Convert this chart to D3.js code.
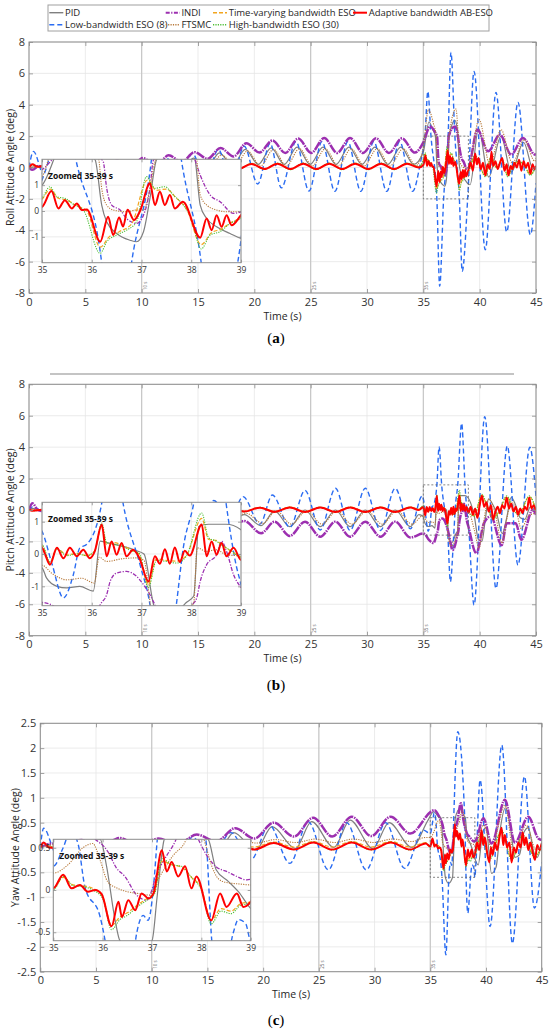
<!DOCTYPE html>
<html>
<head>
<meta charset="utf-8">
<script src="https://cdn.jsdelivr.net/npm/d3@7"></script>
<style>
  body { margin: 0; background: #fff; }
  svg { display: block; }
</style>
</head>
<body>
<svg id="chart" width="550" height="1032"></svg>
<script>
// ---------- data (time s, angle deg) ----------
var seriesLabels = ["PID", "Low-bandwidth ESO (8)", "INDI", "FTSMC",
                    "Time-varying bandwidth ESO", "High-bandwidth ESO (30)", "Adaptive bandwidth AB-ESO"];

var xTicks = [0, 5, 10, 15, 20, 25, 30, 35, 40, 45];
var insetXTicks = [35, 36, 37, 38, 39];
var markTimes = [10, 25, 35];
var markLabels = ["10 s", "25 s", "35 s"];

var rollTicks = [-8, -6, -4, -2, 0, 2, 4, 6, 8];
var pitchTicks = [-8, -6, -4, -2, 0, 2, 4, 6, 8];
var yawTicks = [-2.5, -2, -1.5, -1, -0.5, 0, 0.5, 1, 1.5, 2, 2.5];
var rollInsetTicks = [-1, 0, 1];
var pitchInsetTicks = [-1, 0, 1];
var yawInsetTicks = [-0.5, 0, 0.5];

// ---- roll ----
var rollPID = [[0,0],[0.8,0.05],[1.95,-0.3],[3.1,0.08],[4.25,-0.35],[5.4,0.1],[6.55,-0.4],[7.7,0.15],[8.85,-0.4],[10,0.2],[11.15,-0.35],[12.3,0.3],[13.45,-0.3],[14.6,0.6],[15.75,-0.1],[16.9,0.93],[18.05,0.1],[19.2,1.15],[20.35,0.2],[21.5,1.25],[22.65,0.2],[23.8,1.3],[24.95,0.2],[26.1,1.3],[27.25,0.2],[28.4,1.3],[29.55,0.2],[30.7,1.3],[31.85,0.2],[33,1.3],[34.15,0.2],
  [35,1.0],[35.5,2.9],[35.85,2.4],[36.07,1.97],[36.2,0.23],[36.3,-0.42],[36.5,-0.87],[36.77,-1.13],[36.9,-1.19],[37.04,-0.8],[37.17,0.49],[37.3,1.97],[37.8,3.0],[38,2.5],[38.08,1.97],[38.18,0.23],[38.31,-0.29],[38.51,-0.61],[38.78,-0.87],[39,-1.06],[39.15,-1.1],[39.9,2.5],[40.8,-0.6],[41.9,2.0],[42.8,-0.3],[43.9,1.6],[44.8,-0.2],[45,0]];
var rollLowESO = [[0,0],[0.4,1.03],[1.3,-0.45],[3,0.2],[4.15,-0.3],[5.3,0.25],[6.45,-0.35],[7.6,0.3],[8.75,-0.4],[9.9,0.4],[11.05,-0.5],[12.2,0.6],[13.35,-0.7],[14.5,0.9],[15.65,-0.85],[16.8,1.15],[17.95,-0.95],[19.1,1.35],[20.3,-1.05],[21.4,1.55],[22.4,-1.3],[23.7,1.65],[24.85,-1.5],[26,1.65],[27.15,-1.52],[28.3,1.65],[29.45,-1.52],[30.6,1.65],[31.75,-1.52],[32.9,1.65],[34.05,-1.52],
  [34.8,0.5],[35,1.2],[35.15,2.1],[35.4,4.85],[35.68,2.0],[36.2,-2.0],[36.45,-7.58],[36.8,-2.0],[37.2,2.0],[37.45,7.34],[37.8,2.0],[38.2,-2.0],[38.45,-6.62],[38.95,-1.8],[39.5,6.13],[40.5,-5.24],[41.45,4.79],[42.4,-4.11],[43.4,4.15],[44.5,-4.28],[45,-1.0]];
var rollINDI = [[0,0],[0.3,-0.15],[0.9,0.1],[2.05,-0.2],[3.2,0.2],[4.35,-0.2],[5.5,0.3],[6.65,-0.15],[7.8,0.45],[8.95,-0.05],[10.1,0.6],[11.25,0.1],[12.4,0.78],[13.55,0.35],[14.7,0.98],[15.85,0.55],[17,1.25],[18.15,0.7],[19.3,1.55],[20.45,0.95],[21.6,1.72],[22.75,0.93],[23.9,1.85],[25.05,0.93],[26.2,1.88],[27.35,0.93],[28.5,1.88],[29.65,0.93],[30.8,1.86],[31.95,0.93],[33.1,1.86],[34.25,0.95],
  [35,1.6],[35.6,2.62],[36,2.3],[36.23,1.91],[36.3,0.88],[36.4,0.23],[36.57,0.04],[36.7,-0.29],[36.9,-0.48],[37.04,-0.16],[37.17,0.88],[37.24,1.97],[37.8,2.62],[38.05,2.1],[38.18,1.39],[38.38,0.62],[38.58,0.36],[38.85,-0.09],[39,-0.03],[39.8,2.41],[40.75,1.03],[41.8,2.09],[42.8,0.82],[43.85,1.88],[44.9,0.82],[45,0.9]];
var rollFTSMC = [[0,0],[1,0.03],[2.15,-0.2],[3.3,0.05],[4.45,-0.25],[5.6,0.08],[6.75,-0.3],[7.9,0.1],[9.05,-0.3],[10.2,0.15],[11.35,-0.3],[12.5,0.2],[13.65,-0.25],[14.8,0.5],[15.95,-0.05],[17.1,0.8],[18.25,0.05],[19.4,1.05],[20.55,0.1],[21.7,1.15],[22.85,0.1],[24,1.2],[25.15,0.1],[26.3,1.2],[27.45,0.1],[28.6,1.2],[29.75,0.1],[30.9,1.2],[32.05,0.1],[33.2,1.2],[34.35,0.12],
  [35,1.3],[35.45,3.68],[35.9,2.8],[36.14,2.0],[36.2,0.88],[36.3,0.23],[36.43,0.04],[36.7,-0.03],[36.9,0.04],[37.04,0.04],[37.17,0.88],[37.27,1.91],[37.9,3.73],[38.05,2.6],[38.11,2.0],[38.18,0.62],[38.31,0.23],[38.51,0.04],[38.72,-0.03],[39,-0.03],[39.95,3.05],[40.9,0.2],[41.9,2.41],[42.9,0.3],[43.95,1.77],[44.9,0.4],[45,0.6]];
var rollTVESO = [[0,0],[0.3,0.15],[0.8,0.05],[1.35,0.1],[2.5,-0.05],[3.65,0.1],[4.8,-0.05],[5.95,0.1],[7.1,-0.05],[8.25,0.12],[9.4,-0.05],[10.55,0.15],[11.7,-0.07],[12.85,0.18],[14,-0.08],[15.15,0.22],[16.3,-0.1],[17.45,0.24],[18.6,-0.11],[19.75,0.26],[20.9,-0.12],[22.05,0.27],[23.2,-0.12],[24.35,0.27],[25.5,-0.12],[26.65,0.27],[27.8,-0.12],[28.95,0.27],[30.1,-0.12],[31.25,0.27],[32.4,-0.12],[33.55,0.27],[34.6,0.05],
  [35,0.45],[35.17,0.85],[35.32,0.5],[35.5,0.42],[35.7,0.2],[35.9,0],[36.17,-1.4],[36.35,-1.0],[36.55,-0.8],[36.8,-0.5],[37.12,1.2],[37.3,0.8],[37.5,0.85],[37.7,0.5],[37.9,0.1],[38.2,-1.3],[38.4,-0.85],[38.6,-0.7],[38.8,-0.45],[39,-0.25],[39.6,0.75],[40,0.15],[40.5,-0.55],[41,0.65],[41.5,0],[42,0.45],[42.5,-0.55],[43,0.2],[43.5,0.35],[44,0.1],[44.5,-0.45],[45,0.1]];
var rollHighESO = [[0,0],[0.3,0.16],[0.8,0.05],[1.35,0.11],[2.5,-0.06],[3.65,0.11],[4.8,-0.06],[5.95,0.11],[7.1,-0.06],[8.25,0.13],[9.4,-0.06],[10.55,0.16],[11.7,-0.08],[12.85,0.19],[14,-0.09],[15.15,0.23],[16.3,-0.11],[17.45,0.25],[18.6,-0.12],[19.75,0.27],[20.9,-0.13],[22.05,0.28],[23.2,-0.14],[24.35,0.28],[25.5,-0.14],[26.65,0.28],[27.8,-0.14],[28.95,0.28],[30.1,-0.14],[31.25,0.28],[32.4,-0.14],[33.55,0.28],[34.6,0.05],
  [35,0.49],[35.16,0.94],[35.3,0.55],[35.46,0.49],[35.63,0.26],[35.83,0.04],[36.17,-1.64],[36.3,-1.19],[36.5,-0.93],[36.7,-0.74],[36.9,-0.42],[37.1,1.33],[37.27,0.88],[37.47,0.94],[37.64,0.62],[37.84,0.23],[38,-0.29],[38.2,-1.47],[38.38,-0.93],[38.58,-0.8],[38.78,-0.48],[39,-0.29],[39.6,0.8],[40,0.2],[40.5,-0.6],[41,0.7],[41.5,0],[42,0.5],[42.5,-0.6],[43,0.2],[43.5,0.4],[44,0.1],[44.5,-0.5],[45,0.1]];
var rollABESO = [[0,0],[0.3,0.2],[0.8,0.05],[1.35,0.12],[2.5,-0.05],[3.65,0.1],[4.8,-0.05],[5.95,0.1],[7.1,-0.05],[8.25,0.12],[9.4,-0.05],[10.55,0.15],[11.7,-0.07],[12.85,0.18],[14,-0.08],[15.15,0.2],[16.3,-0.09],[17.45,0.22],[18.6,-0.1],[19.75,0.23],[20.9,-0.1],[22.05,0.24],[23.2,-0.1],[24.35,0.24],[25.5,-0.1],[26.65,0.24],[27.8,-0.1],[28.95,0.24],[30.1,-0.1],[31.25,0.24],[32.4,-0.1],[33.55,0.24],[34.6,0],
  [35,0.16],[35.19,0.77],[35.33,0.1],[35.46,0.42],[35.6,0.1],[35.7,0.29],[35.8,0.04],[35.9,0.06],[36.17,-1.19],[36.33,-0.22],[36.43,-0.93],[36.55,-0.25],[36.63,-0.6],[36.72,0.05],[36.85,-0.35],[36.97,0],[37.17,1.07],[37.27,0.23],[37.37,0.74],[37.47,0.23],[37.57,0.62],[37.67,0.1],[37.83,0.36],[38.18,-1.03],[38.31,-0.29],[38.41,-0.74],[38.51,-0.16],[38.61,-0.61],[38.71,-0.16],[38.81,-0.55],[39,-0.16],
  [39.2,0.3],[39.4,-0.2],[39.6,0.9],[39.75,0.2],[39.9,0.6],[40.1,-0.1],[40.3,0.3],[40.5,-0.5],[40.7,0.2],[40.9,-0.1],[41.05,1.0],[41.2,0.1],[41.4,0.4],[41.6,-0.1],[41.8,0.3],[42,0.6],[42.2,-0.2],[42.4,0.2],[42.55,-0.5],[42.75,0.1],[42.9,-0.1],[43.1,0.3],[43.3,0],[43.5,0.5],[43.7,-0.2],[43.9,0.4],[44.1,0],[44.3,0.3],[44.5,-0.4],[44.7,0.2],[44.85,-0.1],[45,0.1]];

// ---- pitch ----
var pitchPID = [[0,0],[0.3,0.1],[1.6,-0.15],[2.9,0],[4.3,-0.2],[5.6,0],[7,-0.25],[8.3,0],[9.7,-0.3],[11,0],[12.4,-0.4],[13.7,0],[15.1,-0.6],[16.4,0],[17.8,-0.8],[19.1,-0.3],[20.6,-1.0],[21.8,-0.05],[23.15,-1.06],[24.5,0],[25.85,-1.06],[27.2,0],[28.5,-1.06],[29.85,0],[31.2,-1.06],[32.5,0],[33.85,-1.06],
  [34.6,-0.3],[35,-0.43],[35.09,-0.74],[35.3,-1.0],[35.5,-1.05],[35.76,-1.0],[36.03,-1.15],[36.17,0.4],[36.3,0.35],[36.6,0.25],[36.9,0.1],[37.05,0],[37.25,-1.6],[37.5,-2.1],[37.9,-1.5],[38.05,-1.3],[38.15,0.85],[38.35,0.92],[38.7,0.92],[39,0.75],[39.5,-0.3],[39.9,-1.9],[40.2,-2.0],[40.5,-0.6],[40.8,0.7],[41.2,0.3],[41.5,-0.2],[42,-1.5],[42.4,-0.5],[42.8,0.8],[43.2,0.3],[43.6,-0.5],[44,-0.6],[44.5,0.2],[45,0]];
var pitchLowESO = [[0,0],[0.3,0.2],[1.6,-0.2],[2.9,0.15],[4.3,-0.2],[5.6,0.2],[7,-0.25],[8.3,0.25],[9.7,-0.3],[11,0.3],[12.4,-0.4],[13.7,0.4],[15.1,-0.55],[16.4,0.6],[17.8,-0.7],[19,0.85],[20.5,-0.9],[21.6,0.95],[23.15,-1.1],[24.5,1.25],[25.85,-1.27],[27.2,1.38],[28.5,-1.3],[29.85,1.38],[31.2,-1.3],[32.5,1.38],[33.85,-1.2],
  [34.9,0.9],[35,0.7],[35.2,-0.3],[35.43,-1.36],[35.63,-0.64],[35.76,0.19],[35.9,0.3],[36.2,1.57],[36.4,4.03],[36.63,1.57],[36.97,-0.33],[37.17,-1.57],[37.4,-4.56],[37.7,-1.57],[37.84,0.19],[38.05,1.57],[38.4,5.52],[38.7,1.57],[38.9,-0.33],[39,-0.95],[39.5,-6.05],[40.45,5.94],[41.45,-4.99],[42.45,4.07],[43.4,-3.5],[44.45,3.99],[45,0.85]];
var pitchINDI = [[0,0],[0.3,0.43],[0.8,0],[1.6,-0.1],[2.9,0.05],[4.3,-0.2],[5.6,0],[7,-0.35],[8.3,-0.05],[9.7,-0.5],[11,-0.15],[12.4,-0.7],[13.7,-0.25],[15.1,-0.95],[16.4,-0.35],[17.8,-1.2],[19.1,-0.7],[20.6,-1.48],[21.8,-0.74],[23.15,-1.65],[24.5,-0.74],[25.85,-1.7],[27.2,-0.74],[28.5,-1.7],[29.85,-0.74],[31.2,-1.7],[32.5,-0.74],[33.85,-1.75],
  [35,-1.5],[35.15,-1.55],[35.5,-1.9],[35.9,-2.1],[36.2,-1.5],[36.3,-1.26],[36.37,-0.85],[36.5,-0.59],[36.7,-0.54],[36.9,-0.69],[37.04,-0.95],[37.17,-1.26],[37.27,-1.57],[37.6,-2.55],[37.9,-2.0],[38.01,-1.6],[38.11,-1.36],[38.18,-0.85],[38.31,-0.33],[38.51,-0.02],[38.61,0.39],[38.71,0.08],[38.85,-0.64],[39,-1.05],[39.7,-2.75],[40.4,-0.8],[41,-0.4],[41.95,-2.25],[42.4,-0.85],[43.2,-0.85],[43.7,-1.9],[44.7,0],[45,-0.3]];
var pitchFTSMC = [[0,0],[0.3,0.05],[1.75,-0.1],[3.05,-0.02],[4.45,-0.15],[5.75,-0.02],[7.15,-0.2],[8.45,-0.03],[9.85,-0.25],[11.15,-0.03],[12.55,-0.35],[13.85,-0.04],[15.25,-0.5],[16.55,-0.05],[17.95,-0.7],[19.25,-0.2],[20.75,-0.85],[21.95,-0.05],[23.3,-0.9],[24.65,-0.05],[26,-0.9],[27.35,-0.05],[28.65,-0.9],[30,-0.05],[31.35,-0.9],[32.65,-0.05],[34,-0.9],
  [35,-0.35],[35.2,-0.6],[35.5,-0.8],[35.8,-0.75],[36.05,-0.9],[36.15,-0.1],[36.3,-0.23],[36.6,-0.15],[36.9,-0.12],[37.05,-0.2],[37.2,-1.7],[37.5,-2.3],[37.9,-1.8],[38.05,-1.5],[38.12,0.19],[38.3,0.08],[38.5,0.13],[38.7,-0.02],[39,-0.07],[39.5,-1.2],[39.95,-2.4],[40.3,-1.0],[40.8,0.7],[41.3,0],[42,-2.1],[42.4,-0.6],[42.8,0.5],[43.2,0.1],[43.7,-1.2],[44.3,-0.4],[45,-0.2]];
var pitchTVESO = [[0,0],[0.3,-0.03],[1.6,0.06],[2.9,-0.03],[4.3,0.07],[5.6,-0.04],[7,0.08],[8.3,-0.04],[9.7,0.09],[11,-0.05],[12.4,0.11],[13.7,-0.06],[15.1,0.13],[16.4,-0.07],[17.8,0.15],[19.1,-0.08],[20.5,0.17],[21.8,-0.1],[23.15,0.19],[24.5,-0.11],[25.85,0.19],[27.2,-0.11],[28.5,0.19],[29.85,-0.11],[31.2,0.19],[32.5,-0.11],[33.85,0.19],[34.6,0.05],
  [35,0.25],[35.16,-0.28],[35.3,0.17],[35.5,-0.03],[35.7,0.02],[35.9,-0.05],[36.06,0.1],[36.2,0.85],[36.3,0.3],[36.45,0.35],[36.6,0.28],[36.8,0.12],[36.95,0],[37.14,-0.95],[37.3,-0.15],[37.5,-0.2],[37.7,-0.22],[37.9,-0.05],[38.21,1.1],[38.35,0.45],[38.5,0.42],[38.6,0.3],[38.8,0.08],[39,-0.1],[39.5,-0.35],[40.2,0.95],[40.6,0.35],[41.2,-0.5],[41.8,0.05],[42.4,0.85],[43,0],[43.5,-0.25],[44.4,0.85],[45,0]];
var pitchHighESO = [[0,0],[0.3,-0.06],[1.6,0.05],[2.9,-0.05],[4.3,0.06],[5.6,-0.06],[7,0.07],[8.3,-0.06],[9.7,0.09],[11,-0.07],[12.4,0.11],[13.7,-0.08],[15.1,0.13],[16.4,-0.1],[17.8,0.15],[19.1,-0.12],[20.5,0.17],[21.8,-0.14],[23.15,0.18],[24.5,-0.15],[25.85,0.18],[27.2,-0.15],[28.5,0.18],[29.85,-0.15],[31.2,0.18],[32.5,-0.15],[33.85,0.18],[34.6,0.05],
  [35,0.29],[35.16,-0.25],[35.3,0.15],[35.5,-0.05],[35.7,0],[35.9,-0.05],[36.06,0.1],[36.2,0.96],[36.3,0.35],[36.45,0.3],[36.6,0.24],[36.8,0.1],[36.95,0.03],[37.14,-1.05],[37.3,-0.2],[37.5,-0.23],[37.7,-0.28],[37.9,-0.07],[38.21,1.27],[38.35,0.5],[38.5,0.4],[38.6,0.29],[38.8,0.1],[39,-0.12],[39.5,-0.4],[40.2,1.0],[40.6,0.4],[41.2,-0.6],[41.8,0],[42.4,0.9],[43,0],[43.5,-0.3],[44.4,0.9],[45,0]];
var pitchABESO = [[0,0],[0.3,-0.05],[1.6,0.05],[2.9,-0.04],[4.3,0.06],[5.6,-0.05],[7,0.07],[8.3,-0.05],[9.7,0.08],[11,-0.06],[12.4,0.1],[13.7,-0.07],[15.1,0.12],[16.4,-0.08],[17.8,0.13],[19.1,-0.1],[20.5,0.15],[21.8,-0.12],[23.15,0.16],[24.5,-0.13],[25.85,0.16],[27.2,-0.13],[28.5,0.16],[29.85,-0.13],[31.2,0.16],[32.5,-0.13],[33.85,0.16],[34.6,0],
  [35,0.19],[35.06,0],[35.16,-0.33],[35.3,0.19],[35.43,-0.13],[35.56,0.19],[35.7,-0.07],[35.83,0.13],[35.96,-0.13],[36.06,0.08],[36.2,0.91],[36.3,-0.07],[36.4,0.39],[36.5,-0.02],[36.6,0.34],[36.7,-0.07],[36.83,0.13],[36.95,-0.1],[37.14,-0.85],[37.27,-0.07],[37.37,-0.3],[37.47,0.15],[37.57,-0.3],[37.67,0.2],[37.77,-0.25],[37.87,0.1],[37.97,-0.05],[38.21,0.91],[38.31,-0.07],[38.41,0.39],[38.51,-0.02],[38.61,0.34],[38.71,-0.07],[38.85,0.19],[39,-0.18],
  [39.2,0.2],[39.4,-0.3],[39.6,0.1],[39.8,-0.5],[40,0.3],[40.2,0.9],[40.4,0.2],[40.6,0.5],[40.8,-0.1],[41,0.3],[41.2,-0.6],[41.4,-0.1],[41.6,0.2],[41.8,-0.2],[42,0.3],[42.2,0.1],[42.4,0.8],[42.6,0.1],[42.8,0.4],[43,-0.1],[43.2,0.2],[43.4,-0.3],[43.6,0.1],[43.8,-0.2],[44,0.2],[44.2,0],[44.4,0.8],[44.6,0.1],[44.8,0.3],[45,-0.1]];

// ---- yaw ----
var yawPID = [[0,0],[0.5,0.05],[1.9,-0.05],[3.55,0.05],[5.5,-0.05],[7,0.08],[9,-0.08],[10.45,0.1],[12.45,-0.1],[13.9,0.15],[15.95,-0.1],[17.35,0.3],[19.35,-0.05],[20.8,0.42],[22.9,-0.02],[24.35,0.52],[26.35,0],[27.8,0.55],[29.85,-0.02],[31.3,0.5],[33.35,0],
  [34.8,0.55],[35.3,0.72],[35.75,0.62],[35.95,0.6],[36.08,0.28],[36.25,-0.35],[36.35,-0.6],[36.65,-0.72],[37,-0.6],[37.1,-0.1],[37.17,0.28],[37.25,0.6],[37.65,0.78],[38,0.65],[38.14,0.6],[38.3,0.24],[38.55,0.1],[38.75,-0.02],[39,-0.22],[39.3,-0.35],[39.7,0.3],[40,0.4],[40.5,-0.52],[40.9,-0.4],[41.3,0.4],[41.75,0.8],[42.2,0.4],[42.6,-0.2],[43,-0.15],[43.4,0.3],[43.8,0.4],[44.3,-0.1],[44.6,-0.2],[45,0.1]];
var yawLowESO = [[0,0],[0.3,0.39],[1.5,-0.15],[3.3,0.1],[5,-0.1],[6.75,0.1],[8.5,-0.1],[10.2,0.12],[11.9,-0.15],[13.65,0.2],[15.4,-0.2],[17.1,0.3],[18.9,-0.25],[20.55,0.45],[22.4,-0.32],[24.05,0.52],[25.85,-0.45],[27.5,0.5],[29.25,-0.45],[31,0.5],[32.7,-0.42],[34.4,0.35],
  [35,0.28],[35.2,0.5],[35.35,0.7],[35.5,0.55],[35.64,0.04],[35.95,-0.32],[36.05,-0.6],[36.4,-2.16],[36.69,-0.51],[36.82,-0.3],[36.92,-0.36],[37.03,0.04],[37.1,0.55],[37.47,2.33],[38.1,0.55],[38.2,-0.51],[38.37,-1.32],[38.65,-0.5],[38.75,-0.35],[38.9,-0.4],[39,-0.6],[39.1,-0.3],[39.47,1.36],[40.37,-1.59],[41.42,2.06],[42.37,-1.93],[43.45,1.43],[44.35,-1.22],[45,-0.3]];
var yawINDI = [[0,0],[1,0.08],[1.9,0.03],[3.7,0.15],[5.4,0.02],[7.15,0.19],[8.85,0.03],[10.6,0.18],[12.3,0.06],[14.05,0.26],[15.8,0.12],[17.5,0.39],[19.2,0.18],[20.95,0.5],[22.75,0.22],[24.5,0.6],[26.2,0.22],[27.95,0.62],[29.7,0.23],[31.45,0.62],[33.2,0.28],
  [35.37,0.75],[35.8,0.62],[36.11,0.45],[36.28,0.26],[36.45,0.16],[36.69,-0.06],[36.89,-0.12],[36.96,-0.06],[37.09,0.18],[37.26,0.37],[37.43,0.53],[37.75,0.89],[37.94,0.6],[38.11,0.41],[38.31,0.27],[38.51,0.22],[38.72,0.16],[38.92,0.12],[39.1,0.15],[39.77,0.59],[40.5,0.08],[41.7,0.96],[42.6,0.1],[43.8,0.62],[44.7,0.18],[45,0.15]];
var yawFTSMC = [[0,0],[1,0.05],[3,0.08],[5,0.05],[7.3,0.1],[9,0.06],[10.8,0.12],[12.5,0.07],[14.2,0.13],[16,0.08],[17.7,0.15],[19.4,0.09],[21.1,0.16],[22.9,0.1],[24.7,0.17],[26.4,0.1],[28.1,0.17],[29.9,0.1],[31.6,0.17],[33.4,0.12],
  [34.5,0.2],[35,0.2],[35.3,0.3],[35.6,0.5],[35.8,0.55],[35.95,0.35],[36.1,0.1],[36.3,0.02],[36.5,-0.02],[36.7,-0.04],[36.95,-0.06],[37.1,0.1],[37.3,0.3],[37.43,0.41],[37.63,0.53],[37.85,0.75],[38.05,0.6],[38.2,0.3],[38.35,0.13],[38.5,0.09],[38.8,0.07],[39,0.06],[39.8,0.45],[40.5,0],[41.7,0.85],[42.5,-0.1],[43.6,0.45],[44.5,-0.05],[45,0.05]];
var yawTVESO = [[0,0],[0.3,0.08],[0.8,0.02],[1.9,0],[3.7,0.06],[5.4,0],[7.15,0.07],[8.85,0.01],[10.6,0.08],[12.3,0.01],[14.05,0.09],[15.8,0.01],[17.5,0.1],[19.2,0.01],[20.95,0.11],[22.75,0.01],[24.5,0.12],[26.2,0.01],[27.95,0.12],[29.7,0.01],[31.45,0.12],[33.2,0.01],[34.6,0.1],
  [35,0.02],[35.2,0.15],[35.4,0.06],[35.6,0.05],[35.8,0.02],[36,-0.08],[36.18,-0.42],[36.35,-0.32],[36.5,-0.27],[36.7,-0.18],[36.9,-0.1],[37.05,-0.03],[37.2,0.34],[37.4,0.3],[37.6,0.27],[37.8,0.15],[38,0.02],[38.2,-0.36],[38.4,-0.22],[38.6,-0.25],[38.8,-0.16],[39,-0.14],[39.6,0.28],[40.3,-0.22],[41.4,0.33],[42.3,-0.22],[43.3,0.23],[44.4,-0.18],[45,0.05]];
var yawHighESO = [[0,0],[0.3,0.09],[0.8,0.01],[1.9,-0.02],[3.7,0.05],[5.4,-0.02],[7.15,0.06],[8.85,-0.02],[10.6,0.07],[12.3,-0.03],[14.05,0.08],[15.8,-0.03],[17.5,0.09],[19.2,-0.04],[20.95,0.1],[22.75,-0.04],[24.5,0.11],[26.2,-0.05],[27.95,0.11],[29.7,-0.05],[31.45,0.11],[33.2,-0.05],[34.6,0.09],
  [35,0],[35.2,0.16],[35.4,0.05],[35.6,0.04],[35.8,0],[36,-0.1],[36.18,-0.47],[36.35,-0.35],[36.5,-0.3],[36.7,-0.2],[36.9,-0.12],[37.05,-0.05],[37.2,0.37],[37.4,0.3],[37.6,0.28],[37.8,0.15],[38,0],[38.2,-0.4],[38.4,-0.25],[38.6,-0.28],[38.8,-0.18],[39,-0.16],[39.6,0.3],[40.3,-0.25],[41.4,0.35],[42.3,-0.25],[43.3,0.25],[44.4,-0.2],[45,0.05]];
var yawABESO = [[0,0],[0.3,0.1],[0.8,0],[1.9,-0.02],[3.7,0.04],[5.4,-0.02],[7.15,0.05],[8.85,-0.02],[10.6,0.06],[12.3,-0.03],[14.05,0.07],[15.8,-0.03],[17.5,0.08],[19.2,-0.04],[20.95,0.09],[22.75,-0.04],[24.5,0.1],[26.2,-0.04],[27.95,0.1],[29.7,-0.04],[31.45,0.1],[33.2,-0.04],[34.6,0.08],
  [35,0.02],[35.2,0.18],[35.37,0.02],[35.54,0.06],[35.7,-0.02],[35.85,0],[35.98,-0.05],[36.18,-0.43],[36.32,-0.14],[36.39,-0.32],[36.52,-0.12],[36.66,-0.24],[36.79,-0.04],[36.93,-0.1],[37.03,-0.04],[37.2,0.47],[37.3,0.22],[37.4,0.33],[37.53,0.16],[37.67,0.28],[37.8,0.02],[37.9,0.16],[38.2,-0.36],[38.38,-0.04],[38.51,-0.2],[38.72,-0.04],[38.85,-0.2],[39,-0.14],
  [39.2,0.1],[39.4,-0.05],[39.6,0.35],[39.75,0.05],[39.9,0.2],[40.1,-0.1],[40.3,-0.3],[40.45,0],[40.6,-0.15],[40.8,0.1],[41,-0.05],[41.2,0.2],[41.4,0.4],[41.55,0.05],[41.7,0.25],[41.9,0],[42.1,0.1],[42.3,-0.3],[42.5,0],[42.7,-0.1],[42.9,0.1],[43.1,0],[43.3,0.3],[43.45,0.05],[43.6,0.2],[43.8,-0.05],[44,0.1],[44.2,-0.1],[44.4,-0.25],[44.6,0.05],[44.8,-0.05],[45,0.08]];

// ---------- styles & layout ----------
var FONT = '"Open Sans", "Noto Sans", sans-serif';
var styles = [
  { color: "#7f7f7f", width: 1.2, dash: null,              iwidth: 1.2, idash: null },              // PID
  { color: "#2a6cf2", width: 1.4, dash: "5,3",             iwidth: 1.4, idash: "5,3" },             // low-bandwidth ESO
  { color: "#9c2fb0", width: 2.5, dash: "9,1,1.5,1",       iwidth: 1.3, idash: "4,1.5,1.2,1.5" },   // INDI
  { color: "#b7793a", width: 1.1, dash: "1.2,1.2",         iwidth: 1.1, idash: "1.2,1.2" },         // FTSMC
  { color: "#f2a51f", width: 1.2, dash: "4,2",             iwidth: 1.2, idash: "4,2" },             // time-varying ESO
  { color: "#4cbf36", width: 1.1, dash: "1.2,1.2",         iwidth: 1.1, idash: "1.2,1.2" },         // high-bandwidth ESO
  { color: "#ff0000", width: 2.0, dash: null,              iwidth: 2.0, idash: null }               // AB-ESO
];

var panels = [
  { id: "a", left: 29, right: 536, top: 42, bottom: 293, yDomain: [-8, 8], yTicks: rollTicks,
    ylabel: "Roll Attitude Angle (deg)", ylabelX: 14, xlabelY: 320, captionY: 343,
    inset: { left: 42, right: 241, top: 159.3, bottom: 262.7, yDomain: [-2, 2], yTicks: rollInsetTicks },
    series: [rollPID, rollLowESO, rollINDI, rollFTSMC, rollTVESO, rollHighESO, rollABESO] },
  { id: "b", left: 29, right: 536, top: 384.3, bottom: 635.7, yDomain: [-8, 8], yTicks: pitchTicks,
    ylabel: "Pitch Attitude Angle (deg)", ylabelX: 14, xlabelY: 662, captionY: 690,
    inset: { left: 42, right: 241, top: 502.3, bottom: 605.7, yDomain: [-1.6, 1.6], yTicks: pitchInsetTicks },
    series: [pitchPID, pitchLowESO, pitchINDI, pitchFTSMC, pitchTVESO, pitchHighESO, pitchABESO] },
  { id: "c", left: 40.3, right: 541.7, top: 723.3, bottom: 971.7, yDomain: [-2.5, 2.5], yTicks: yawTicks,
    ylabel: "Yaw Attitude Angle (deg)", ylabelX: 19, xlabelY: 998, captionY: 1025,
    inset: { left: 53.3, right: 250.7, top: 839.3, bottom: 940.7, yDomain: [-0.6, 0.6], yTicks: yawInsetTicks },
    series: [yawPID, yawLowESO, yawINDI, yawFTSMC, yawTVESO, yawHighESO, yawABESO] }
];

var svg = d3.select("#chart");
var defs = svg.append("defs");

function lineGen(x, y) {
  return d3.line()
      .x(function(d) { return x(d[0]); })
      .y(function(d) { return y(d[1]); })
      .curve(d3.curveMonotoneX);
}

function addClip(id, l, t, w, h) {
  defs.append("clipPath").attr("id", id)
    .append("rect").attr("x", l).attr("y", t).attr("width", w).attr("height", h);
}

function drawSeries(g, series, x, y, clipId, inset) {
  var lg = g.append("g").attr("clip-path", "url(#" + clipId + ")");
  series.forEach(function(s, i) {
    var st = styles[i];
    lg.append("path").datum(s)
        .attr("fill", "none")
        .attr("stroke", st.color)
        .attr("stroke-width", inset ? st.iwidth : st.width)
        .attr("stroke-dasharray", inset ? st.idash : st.dash)
        .attr("stroke-linejoin", "round")
        .attr("d", lineGen(x, y));
  });
}

function drawGrid(g, x, y, xt, yt, l, r, t, b) {
  g.append("g").selectAll("line").data(xt).join("line")
      .attr("x1", x).attr("x2", x).attr("y1", t).attr("y2", b)
      .attr("stroke", "#e6e6e6").attr("stroke-width", 0.8);
  g.append("g").selectAll("line").data(yt).join("line")
      .attr("x1", l).attr("x2", r).attr("y1", y).attr("y2", y)
      .attr("stroke", "#e6e6e6").attr("stroke-width", 0.8);
}

function styleAxis(sel, fs) {
  sel.attr("font-family", FONT).attr("font-size", fs);
  sel.select(".domain").remove();
  sel.selectAll(".tick line").attr("stroke", "#8c8c8c").attr("stroke-width", 0.8);
  sel.selectAll(".tick text").attr("fill", "#333");
}

function drawAxes(g, x, y, xt, yt, l, r, t, b, fs, ts, pad) {
  g.append("g").attr("transform", "translate(0," + b + ")")
      .call(d3.axisBottom(x).tickValues(xt).tickSize(-ts).tickPadding(pad).tickFormat(String))
      .call(styleAxis, fs);
  g.append("g").attr("transform", "translate(" + l + ",0)")
      .call(d3.axisLeft(y).tickValues(yt).tickSize(-ts).tickPadding(pad - 1).tickFormat(String))
      .call(styleAxis, fs);
  g.append("g").attr("transform", "translate(0," + t + ")")
      .call(d3.axisTop(x).tickValues(xt).tickSize(-ts).tickFormat(""))
      .call(styleAxis, fs);
  g.append("g").attr("transform", "translate(" + r + ",0)")
      .call(d3.axisRight(y).tickValues(yt).tickSize(-ts).tickFormat(""))
      .call(styleAxis, fs);
  g.append("rect").attr("x", l).attr("y", t).attr("width", r - l).attr("height", b - t)
      .attr("fill", "none").attr("stroke", "#8c8c8c").attr("stroke-width", 1);
}

function drawPanel(p) {
  var g = svg.append("g").attr("class", "panel-" + p.id);
  var x = d3.scaleLinear().domain([0, 45]).range([p.left, p.right]);
  var y = d3.scaleLinear().domain(p.yDomain).range([p.bottom, p.top]);

  drawGrid(g, x, y, xTicks, p.yTicks, p.left, p.right, p.top, p.bottom);

  // event markers
  markTimes.forEach(function(t, i) {
    g.append("line").attr("x1", x(t)).attr("x2", x(t)).attr("y1", p.top).attr("y2", p.bottom)
        .attr("stroke", "#c4c4c4").attr("stroke-width", 1.1);
    g.append("text").attr("transform", "translate(" + (x(t) + 5) + "," + (p.bottom - 3) + ") rotate(-90)")
        .attr("font-family", FONT).attr("font-size", 4.5).attr("fill", "#666").text(markLabels[i]);
  });

  addClip("clip-" + p.id, p.left, p.top, p.right - p.left, p.bottom - p.top);
  drawSeries(g, p.series, x, y, "clip-" + p.id, false);

  // zoom window
  g.append("rect")
      .attr("x", x(35)).attr("y", y(p.inset.yDomain[1]))
      .attr("width", x(39) - x(35)).attr("height", y(p.inset.yDomain[0]) - y(p.inset.yDomain[1]))
      .attr("fill", "none").attr("stroke", "#666").attr("stroke-width", 0.8).attr("stroke-dasharray", "2,2");

  drawAxes(g, x, y, xTicks, p.yTicks, p.left, p.right, p.top, p.bottom, 11, 4, 5);

  g.append("text").attr("x", (p.left + p.right) / 2).attr("y", p.xlabelY)
      .attr("text-anchor", "middle").attr("font-family", FONT).attr("font-size", 10.5)
      .attr("fill", "#262626").text("Time (s)");
  g.append("text")
      .attr("transform", "translate(" + p.ylabelX + "," + ((p.top + p.bottom) / 2) + ") rotate(-90)")
      .attr("text-anchor", "middle").attr("font-family", FONT).attr("font-size", 10.5)
      .attr("fill", "#262626").text(p.ylabel);

  var cap = g.append("text").attr("x", 276).attr("y", p.captionY).attr("text-anchor", "middle")
      .attr("font-family", '"Liberation Serif", "DejaVu Serif", serif').attr("font-size", 15).attr("fill", "#000");
  cap.append("tspan").text("(");
  cap.append("tspan").attr("font-weight", "bold").text(p.id);
  cap.append("tspan").text(")");

  // inset
  var ins = p.inset;
  var ix = d3.scaleLinear().domain([35, 39]).range([ins.left, ins.right]);
  var iy = d3.scaleLinear().domain(ins.yDomain).range([ins.bottom, ins.top]);
  var ig = g.append("g").attr("class", "inset");
  ig.append("rect").attr("x", ins.left).attr("y", ins.top)
      .attr("width", ins.right - ins.left).attr("height", ins.bottom - ins.top).attr("fill", "#fff");
  drawGrid(ig, ix, iy, insetXTicks, ins.yTicks, ins.left, ins.right, ins.top, ins.bottom);
  addClip("iclip-" + p.id, ins.left, ins.top, ins.right - ins.left, ins.bottom - ins.top);
  drawSeries(ig, p.series, ix, iy, "iclip-" + p.id, true);
  drawAxes(ig, ix, iy, insetXTicks, ins.yTicks, ins.left, ins.right, ins.top, ins.bottom, 8.5, 3, 4);
  ig.append("text").attr("x", ins.left + 6).attr("y", ins.top + 19.5)
      .attr("font-family", FONT).attr("font-size", 8.5).attr("font-weight", "bold")
      .attr("fill", "#111").text("Zoomed 35-39 s");
}

panels.forEach(drawPanel);

// separator between (a) and (b)
svg.append("line").attr("x1", 50).attr("x2", 514).attr("y1", 374).attr("y2", 374)
    .attr("stroke", "#b0b0b0").attr("stroke-width", 1.5);

// legend
var legendItems = [
  { i: 0, x: 49.3, y: 12.7 }, { i: 2, x: 165.7, y: 12.7 }, { i: 4, x: 213, y: 12.7 }, { i: 6, x: 353, y: 12.7 },
  { i: 1, x: 49.3, y: 24.7 }, { i: 3, x: 165.7, y: 24.7 }, { i: 5, x: 213, y: 24.7 }
];
var lg = svg.append("g").attr("class", "legend");
lg.append("rect").attr("x", 48).attr("y", 5).attr("width", 441).attr("height", 26)
    .attr("fill", "#fff").attr("stroke", "#a0a0a0").attr("stroke-width", 1);
legendItems.forEach(function(it) {
  var st = styles[it.i];
  lg.append("line").attr("x1", it.x).attr("x2", it.x + 14).attr("y1", it.y).attr("y2", it.y)
      .attr("stroke", st.color).attr("stroke-width", Math.min(2, Math.max(1.4, st.width)))
      .attr("stroke-dasharray", st.idash);
  lg.append("text").attr("x", it.x + 15.7).attr("y", it.y).attr("dy", "0.35em")
      .attr("font-family", FONT).attr("font-size", 9.5).attr("fill", "#262626")
      .text(seriesLabels[it.i]);
});
</script>
</body>
</html>
